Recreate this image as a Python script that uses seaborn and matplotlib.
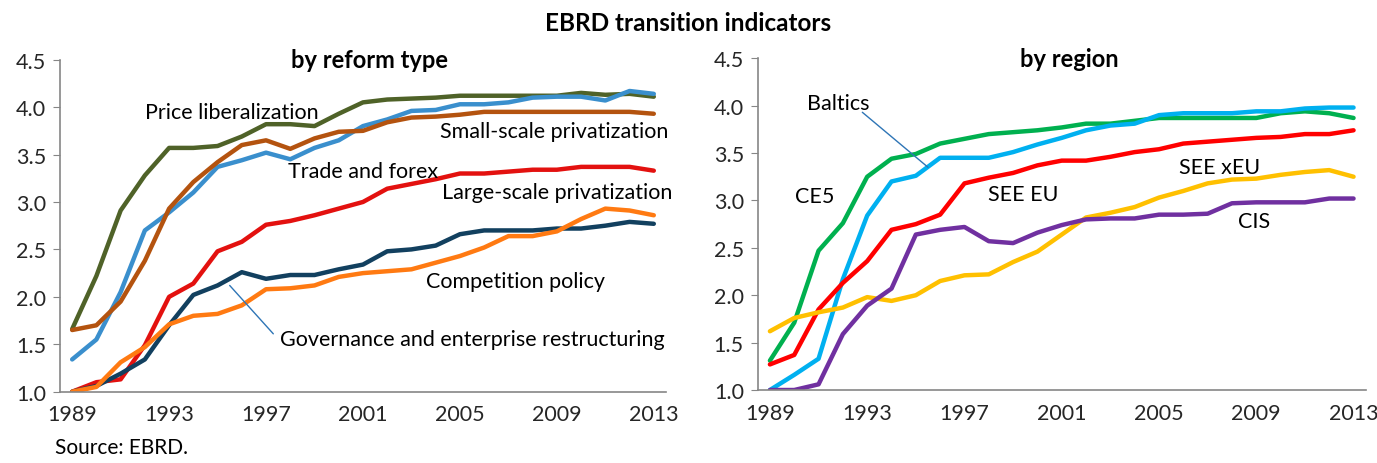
import matplotlib
matplotlib.use('Agg')
import matplotlib.pyplot as plt
import seaborn as sns
import pandas as pd
import numpy as np

years = list(range(1989, 2014))
year_labels = [str(y) if (y - 1989) % 4 == 0 else '' for y in years]

# by reform type
price_lib = [1.66, 2.22, 2.91, 3.28, 3.57, 3.57, 3.59, 3.69, 3.82, 3.82, 3.80, 3.93, 4.05,
             4.08, 4.09, 4.10, 4.12, 4.12, 4.12, 4.12, 4.12, 4.15, 4.13, 4.14, 4.11]
trade_forex = [1.34, 1.55, 2.05, 2.70, 2.89, 3.10, 3.37, 3.44, 3.52, 3.45, 3.57, 3.65, 3.80,
               3.87, 3.96, 3.97, 4.03, 4.03, 4.05, 4.10, 4.11, 4.11, 4.07, 4.17, 4.14]
small_priv = [1.65, 1.70, 1.95, 2.38, 2.93, 3.21, 3.42, 3.60, 3.65, 3.56, 3.67, 3.74, 3.75,
              3.84, 3.89, 3.90, 3.92, 3.95, 3.95, 3.95, 3.95, 3.95, 3.95, 3.95, 3.93]
large_priv = [1.00, 1.10, 1.13, 1.49, 2.00, 2.14, 2.48, 2.58, 2.76, 2.80, 2.86, 2.93, 3.00,
              3.14, 3.19, 3.24, 3.30, 3.30, 3.32, 3.34, 3.34, 3.37, 3.37, 3.37, 3.33]
governance = [1.00, 1.06, 1.19, 1.34, 1.70, 2.02, 2.12, 2.26, 2.19, 2.23, 2.23, 2.29, 2.34,
              2.48, 2.50, 2.54, 2.66, 2.70, 2.70, 2.70, 2.72, 2.72, 2.75, 2.79, 2.77]
competition = [1.00, 1.05, 1.31, 1.47, 1.71, 1.80, 1.82, 1.91, 2.08, 2.09, 2.12, 2.21, 2.25,
               2.27, 2.29, 2.36, 2.43, 2.52, 2.64, 2.64, 2.69, 2.82, 2.93, 2.91, 2.86]

# by region
ce5 = [1.31, 1.71, 2.47, 2.76, 3.25, 3.44, 3.49, 3.60, 3.65, 3.70, 3.72, 3.74, 3.77,
       3.81, 3.81, 3.84, 3.87, 3.87, 3.87, 3.87, 3.87, 3.92, 3.94, 3.92, 3.87]
baltics = [1.00, 1.16, 1.33, 2.17, 2.84, 3.20, 3.26, 3.45, 3.45, 3.45, 3.51, 3.59, 3.66,
           3.74, 3.79, 3.81, 3.90, 3.92, 3.92, 3.92, 3.94, 3.94, 3.97, 3.98, 3.98]
see_eu = [1.27, 1.37, 1.85, 2.13, 2.36, 2.69, 2.75, 2.85, 3.18, 3.24, 3.29, 3.37, 3.42,
          3.42, 3.46, 3.51, 3.54, 3.60, 3.62, 3.64, 3.66, 3.67, 3.70, 3.70, 3.74]
see_xeu = [1.62, 1.76, 1.82, 1.87, 1.98, 1.94, 2.00, 2.15, 2.21, 2.22, 2.35, 2.46, 2.64,
           2.82, 2.87, 2.93, 3.03, 3.10, 3.18, 3.22, 3.23, 3.27, 3.30, 3.32, 3.25]
cis = [1.00, 1.00, 1.06, 1.59, 1.89, 2.07, 2.64, 2.69, 2.72, 2.57, 2.55, 2.66, 2.74,
       2.80, 2.81, 2.81, 2.85, 2.85, 2.86, 2.97, 2.98, 2.98, 2.98, 3.02, 3.02]

reform = {
    'Price liberalization': price_lib,
    'Trade and forex': trade_forex,
    'Small-scale privatization': small_priv,
    'Large-scale privatization': large_priv,
    'Governance and enterprise restructuring': governance,
    'Competition policy': competition,
}
reform_colors = {
    'Price liberalization': '#4F6228',
    'Trade and forex': '#3A8FCD',
    'Small-scale privatization': '#B4530F',
    'Large-scale privatization': '#E3110F',
    'Governance and enterprise restructuring': '#12405F',
    'Competition policy': '#FF7A12',
}
region = {
    'CE5': ce5,
    'Baltics': baltics,
    'SEE EU': see_eu,
    'SEE xEU': see_xeu,
    'CIS': cis,
}
region_colors = {
    'CE5': '#00B04F',
    'Baltics': '#00B0F0',
    'SEE EU': '#FF0000',
    'SEE xEU': '#FFC000',
    'CIS': '#7030A0',
}

def long_df(d):
    rows = []
    for name, vals in d.items():
        for i, v in enumerate(vals):
            rows.append({'idx': i, 'value': v, 'series': name})
    return pd.DataFrame(rows)

sns.set_style('white')
plt.rcParams['font.family'] = ['Lato', 'DejaVu Sans']
plt.rcParams['text.color'] = 'black'

fig = plt.figure(figsize=(13.77, 4.64), dpi=100)
ax1 = fig.add_axes([0.0436, 0.1537, 0.440, 0.7155])
ax2 = fig.add_axes([0.5503, 0.1573, 0.4415, 0.715])

sns.lineplot(data=long_df(reform), x='idx', y='value', hue='series',
             palette=reform_colors, linewidth=3.2, legend=False, ax=ax1)
sns.lineplot(data=long_df(region), x='idx', y='value', hue='series',
             palette=region_colors, linewidth=3.2, legend=False, ax=ax2)

grey = '#868686'
tfs = 15.5
for ax in (ax1, ax2):
    ax.set_xlim(-0.5, len(years) - 0.5)
    ax.set_ylim(1.0, 4.5)
    ax.set_yticks(np.arange(1.0, 4.51, 0.5))
    ax.set_yticklabels([f'{v:.1f}' for v in np.arange(1.0, 4.51, 0.5)], fontsize=tfs)
    ax.set_xticks(range(len(years)))
    ax.set_xticklabels(year_labels, fontsize=tfs)
    ax.set_xticks(np.arange(-0.5, len(years), 1.0), minor=True)
    ax.tick_params(axis='x', which='major', length=0, pad=9)
    ax.tick_params(axis='x', which='minor', length=6, color=grey, direction='out')
    ax.tick_params(axis='y', length=5, color=grey, direction='out', pad=5, left=True)
    ax.set_xlabel('')
    ax.set_ylabel('')
    for s in ('top', 'right'):
        ax.spines[s].set_visible(False)
    for s in ('left', 'bottom'):
        ax.spines[s].set_color(grey)
        ax.spines[s].set_linewidth(1.2)
    ax.set_facecolor('white')

fs = 15.5
ax1.text(0.51, 1.0, 'by reform type', transform=ax1.transAxes, ha='center', va='center',
         fontsize=17, fontweight='bold')
ax2.text(0.513, 1.0, 'by region', transform=ax2.transAxes, ha='center', va='center',
         fontsize=17, fontweight='bold')
fig.text(0.5, 0.950, 'EBRD transition indicators', ha='center', va='center',
         fontsize=17.5, fontweight='bold')
fig.text(0.040, 0.012, 'Source: EBRD.', ha='left', va='bottom', fontsize=15)

ax1.text(6.6, 3.95, 'Price liberalization', ha='center', va='center', fontsize=fs)
ax1.text(19.9, 3.75, 'Small-scale privatization', ha='center', va='center', fontsize=fs)
ax1.text(12.0, 3.33, 'Trade and forex', ha='center', va='center', fontsize=fs)
ax1.text(20.0, 3.11, 'Large-scale privatization', ha='center', va='center', fontsize=fs)
ax1.text(18.3, 2.17, 'Competition policy', ha='center', va='center', fontsize=fs)
ax1.text(16.5, 1.56, 'Governance and enterprise restructuring', ha='center', va='center', fontsize=fs)
ax1.plot([6.5, 8.3], [2.12, 1.61], color='#2E75B6', linewidth=1)

ax2.text(2.8, 4.03, 'Baltics', ha='center', va='center', fontsize=fs)
ax2.plot([3.8, 6.5], [3.93, 3.35], color='#2E75B6', linewidth=1)
ax2.text(1.85, 3.05, 'CE5', ha='center', va='center', fontsize=fs)
ax2.text(10.4, 3.07, 'SEE EU', ha='center', va='center', fontsize=fs)
ax2.text(18.5, 3.35, 'SEE xEU', ha='center', va='center', fontsize=fs)
ax2.text(19.9, 2.78, 'CIS', ha='center', va='center', fontsize=fs)

fig.savefig('out.png', dpi=100, facecolor='white')
